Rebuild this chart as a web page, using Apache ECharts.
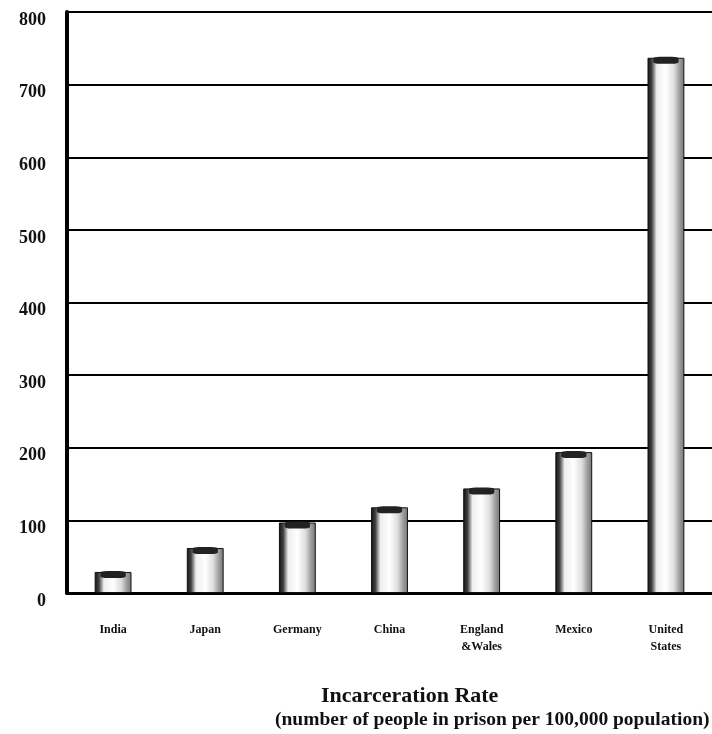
<!DOCTYPE html>
<html><head><meta charset="utf-8">
<script src="https://cdn.jsdelivr.net/npm/echarts@6/dist/echarts.min.js"></script>
<style>html,body{margin:0;padding:0;background:#fff}#c{width:712px;height:734px}</style>
</head><body><div id="c"></div>
<script>
const categories = ['India', 'Japan', 'Germany', 'China', 'England\n&Wales', 'Mexico', 'United\nStates'];
const rates = [29, 62, 97, 118, 144, 194, 737];
const yTicks = { min: 0, max: 800, interval: 100 };
const titleLines = ['Incarceration Rate', '(number of people in prison per 100,000 population)'];

const chart = echarts.init(document.getElementById('c'));
const font = '"Liberation Serif", "DejaVu Serif", serif';
chart.setOption({
  animation: false,
  backgroundColor: '#fff',
  title: [
    { text: titleLines[0], left: 316, top: 680, textStyle: { fontFamily: font, fontWeight: 'bold', fontSize: 22, color: '#111' } },
    { text: titleLines[1], left: 270, top: 705, textStyle: { fontFamily: font, fontWeight: 'bold', fontSize: 19.5, color: '#111' } }
  ],
  grid: { left: 67, right: 0, top: 12, bottom: 141, containLabel: false },
  xAxis: {
    type: 'category', data: categories,
    axisLine: { lineStyle: { color: '#000', width: 3 } },
    axisTick: { show: false },
    axisLabel: { fontFamily: font, fontWeight: 'bold', fontSize: 12, color: '#111', margin: 28, lineHeight: 17 }
  },
  yAxis: {
    type: 'value', min: yTicks.min, max: yTicks.max, interval: yTicks.interval,
    axisLine: { show: true, lineStyle: { color: '#000', width: 4 } },
    axisTick: { show: false },
    axisLabel: { fontFamily: font, fontWeight: 'bold', fontSize: 18, color: '#111', margin: 21, verticalAlign: 'top', lineHeight: 16 },
    splitLine: { lineStyle: { color: '#000', width: 2 } }
  },
  series: [
    {
      type: 'bar', data: rates, barWidth: '40%', z: 3,
      itemStyle: {
        borderColor: '#111', borderWidth: 1,
        color: new echarts.graphic.LinearGradient(0, 0, 1, 0, [
          { offset: 0, color: '#111' },
          { offset: 0.12, color: '#444' },
          { offset: 0.25, color: '#eee' },
          { offset: 0.5, color: '#fff' },
          { offset: 0.72, color: '#ddd' },
          { offset: 0.88, color: '#999' },
          { offset: 1, color: '#777' }
        ])
      }
    },
    {
      type: 'pictorialBar', data: rates, symbol: 'roundRect', symbolSize: ['40%', 7],
      symbolPosition: 'end', symbolOffset: [0, -1], z: 4,
      itemStyle: { color: '#222' }, tooltip: { show: false }
    }
  ]
});
</script></body></html>
